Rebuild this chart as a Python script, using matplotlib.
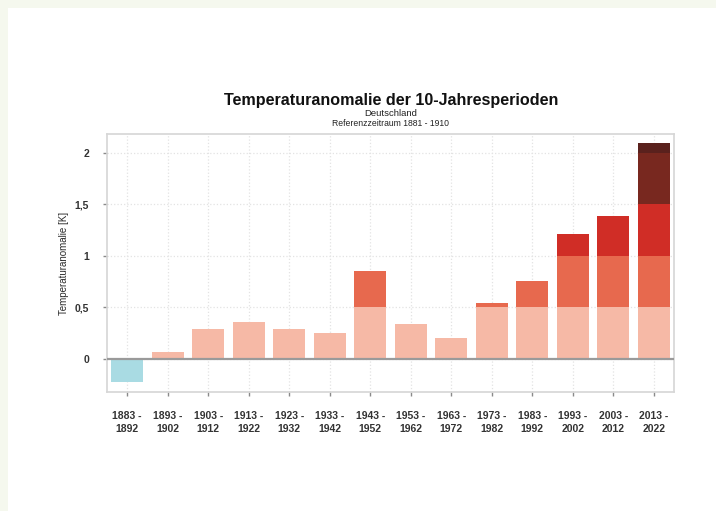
import numpy as np
import matplotlib.pyplot as plt
from matplotlib.patches import Rectangle

plt.rcParams['font.family'] = ['Liberation Sans', 'DejaVu Sans']

# Datos: anomalia por decada (K), referencia 1881-1910
periodos = ['1883 -\n1892', '1893 -\n1902', '1903 -\n1912', '1913 -\n1922', '1923 -\n1932',
            '1933 -\n1942', '1943 -\n1952', '1953 -\n1962', '1963 -\n1972', '1973 -\n1982',
            '1983 -\n1992', '1993 -\n2002', '2003 -\n2012', '2013 -\n2022']
anomalia = [-0.22, 0.07, 0.29, 0.36, 0.29, 0.25, 0.85, 0.34, 0.20, 0.54, 0.76, 1.21, 1.39, 2.09]

# Stufen (0.5 K) und Farben
stufen = [0.0, 0.5, 1.0, 1.5, 2.0, 2.5]
farben = ['#f6b9a6', '#e7694e', '#d02d26', '#78281f', '#5a211d']
farbe_neg = '#a9dbe3'

fig = plt.figure(figsize=(7.16, 5.11), dpi=100)
fig.patch.set_facecolor('white')
# heller Rand oben und links
rand = '#f5f8ee'
fig.patches.append(Rectangle((0, 0), 8 / 716, 1, transform=fig.transFigure,
                             facecolor=rand, edgecolor='none'))
fig.patches.append(Rectangle((0, 1 - 8 / 511), 1, 8 / 511, transform=fig.transFigure,
                             facecolor=rand, edgecolor='none'))

ax = fig.add_axes([107 / 716, 1 - 392 / 511, (674 - 107) / 716, (392 - 134) / 511])
ax.set_facecolor('white')

x = np.arange(len(periodos))
ancho = 0.78
for i, v in enumerate(anomalia):
    if v < 0:
        ax.bar(x[i], v, width=ancho, color=farbe_neg, zorder=3)
        continue
    for k in range(len(farben)):
        lo, hi = stufen[k], stufen[k + 1]
        if v <= lo:
            break
        ax.bar(x[i], min(v, hi) - lo, bottom=lo, width=ancho, color=farben[k], zorder=3)

ax.axhline(0, color='#9a9a9a', lw=1.6, zorder=4)

ax.set_xlim(-0.5, len(periodos) - 0.5)
ax.set_ylim(-0.32, 2.18)
ax.set_yticks([0, 0.5, 1, 1.5, 2])
ax.set_yticklabels(['0', '0,5', '1', '1,5', '2'], fontweight='bold')
ax.set_xticks(x)
ax.set_xticklabels(periodos, linespacing=1.3, fontweight='bold')

ax.grid(True, color='#e3e3e3', linestyle=':', lw=0.9, zorder=0)
for s in ax.spines.values():
    s.set_color('#d6d6d6')
    s.set_linewidth(1.2)
ax.tick_params(axis='both', colors='#8a8a8a', length=3, width=1, labelcolor='#333333',
               labelsize=7.5)
ax.tick_params(axis='x', pad=11)
ax.tick_params(axis='y', pad=10)

ax.set_ylabel('Temperaturanomalie [K]', fontsize=7, color='#2a2a2a', labelpad=4)

xc = 391 / 716
fig.text(xc, 1 - 100.5 / 511, 'Temperaturanomalie der 10-Jahresperioden', ha='center', va='center',
         fontsize=11.6, fontweight='bold', color='#111111')
fig.text(xc, 1 - 113 / 511, 'Deutschland', ha='center', va='center', fontsize=6.8, color='#222222')
fig.text(xc, 1 - 124 / 511, 'Referenzzeitraum 1881 - 1910', ha='center', va='center',
         fontsize=6.2, color='#222222')

plt.savefig('out.png', dpi=100, facecolor=fig.get_facecolor())
